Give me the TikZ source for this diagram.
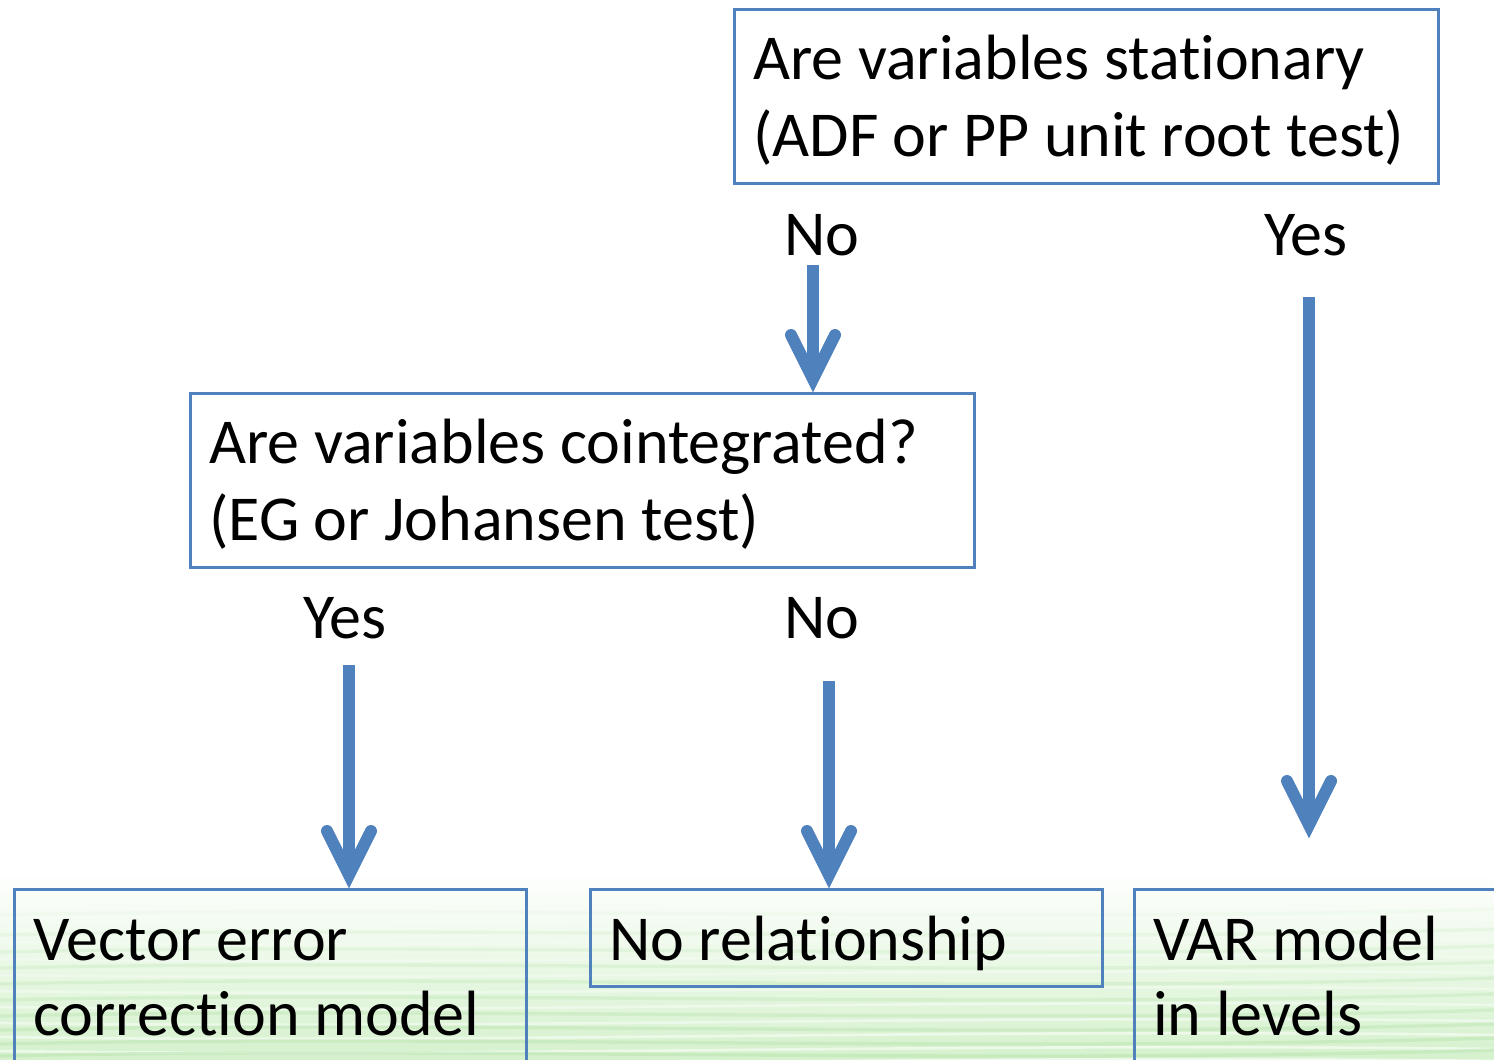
\documentclass[tikz,border=0pt]{standalone}
\usepackage{fontspec}
\setmainfont{Carlito}[Ligatures=NoCommon]
\usetikzlibrary{calc}
\definecolor{boxblue}{HTML}{4F81BD}
\definecolor{lgreen}{HTML}{D5F1CD}
\definecolor{sgreen}{HTML}{BDE6B3}
\begin{document}
\begin{tikzpicture}[x=0.75pt,y=-0.75pt,
  boxstyle/.style={draw=boxblue,line width=2.25pt,rectangle,inner sep=0pt,anchor=north west},
  txt/.style={font=\fontsize{48pt}{58pt}\selectfont,anchor=base west,inner sep=0pt},
  lbl/.style={font=\fontsize{48pt}{58pt}\selectfont,anchor=base,inner sep=0pt},
  shaft/.style={draw=boxblue,line width=9pt},
  barb/.style={draw=boxblue,line width=9pt,line cap=round,line join=miter}]
\useasboundingbox (0,0) rectangle (1494,1059);
\clip (0,0) rectangle (1494,1059);
% background
\fill[white] (0,0) rectangle (1494,1059);
\shade[top color=white,bottom color=lgreen] (0,870) rectangle (1494,1059);
\foreach \y/\o in {915/0.1,935/0.2,952/0.25,968/0.3,984/0.35,1000/0.4,1016/0.45,1030/0.5,1044/0.55,1056/0.6}{
  \draw[sgreen,line width=2.5pt,opacity=\o] (0,\y) .. controls (450,\y-10) and (1000,\y+9) .. (1494,\y-6);
  \draw[white,line width=2pt,opacity=\o] (0,\y+7) .. controls (500,\y+14) and (950,\y-2) .. (1494,\y+5);
}
% boxes
\node[boxstyle,minimum width=528pt,minimum height=130.5pt] (q1) at (733,8) {};
\node[boxstyle,minimum width=588pt,minimum height=130.5pt] (q2) at (189,392) {};
\node[boxstyle,minimum width=384pt,minimum height=150pt] (r1) at (13,888) {};
\node[boxstyle,minimum width=384pt,minimum height=72.75pt] (r2) at (589,888) {};
\node[boxstyle,minimum width=300pt,minimum height=150pt] (r3) at (1133,888) {};
% texts
\node[txt] (t1a) at (753,80) {Are variables stationary};
\node[txt] (t1b) at (753,157) {(ADF or PP unit root test)};
\node[txt] (t2a) at (209,463) {Are variables cointegrated?};
\node[txt] (t2b) at (209,540) {(EG or Johansen test)};
\node[txt] (t3a) at (33,960) {Vector error};
\node[txt] (t3b) at (33,1035) {correction model};
\node[txt] (t4) at (609,960) {No relationship};
\node[txt] (t5a) at (1153,960) {VAR model};
\node[txt] (t5b) at (1153,1035) {in levels};
% labels
\node[lbl] (no1) at (822,255) {No};
\node[lbl] (yes1) at (1306,255) {Yes};
\node[lbl] (yes2) at (345,638) {Yes};
\node[lbl] (no2) at (822,638) {No};
% arrows
\coordinate (a1s) at (813,265);
\coordinate (a1v) at ($(a1s |- q2.north)+(0,-13)$);
\coordinate (a2s) at (1309,297);
\coordinate (a2v) at (1309,825);
\coordinate (a3s) at (349,665);
\coordinate (a3v) at ($(a3s |- r1.north)+(0,-13)$);
\coordinate (a4s) at (829,681);
\coordinate (a4v) at ($(a4s |- r2.north)+(0,-13)$);
\foreach \s/\v in {a1s/a1v,a2s/a2v,a3s/a3v,a4s/a4v}{
  \draw[shaft] (\s) -- (\v);
  \draw[barb] ($(\v)+(-22,-44)$) -- (\v) -- ($(\v)+(22,-44)$);
}
\end{tikzpicture}
\end{document}
